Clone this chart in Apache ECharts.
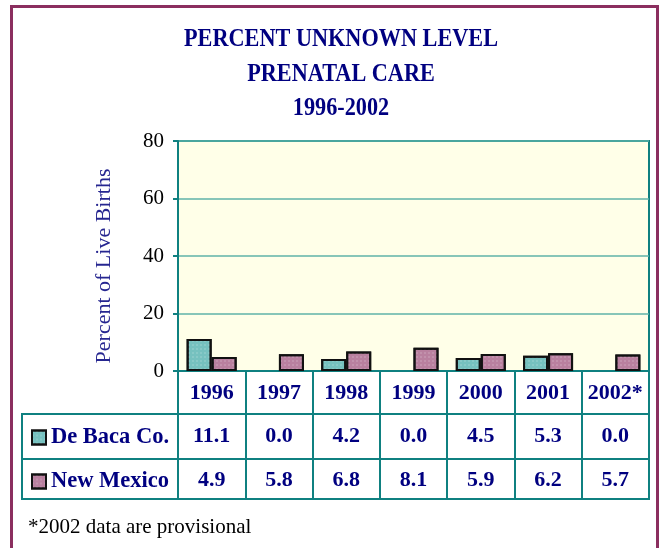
<!DOCTYPE html>
<html>
<head>
<meta charset="utf-8">
<script src="https://cdn.jsdelivr.net/npm/echarts@6/dist/echarts.min.js"></script>
<style>
html,body{margin:0;padding:0;background:#ffffff;}
#chart{width:661px;height:548px;}
</style>
</head>
<body>
<div id="chart"></div>
<script>
// ---- data ----
const years = ['1996','1997','1998','1999','2000','2001','2002*'];
const deBaca = [11.1, 0.0, 4.2, 0.0, 4.5, 5.3, 0.0];
const newMexico = [4.9, 5.8, 6.8, 8.1, 5.9, 6.2, 5.7];
const seriesNames = ['De Baca Co.', 'New Mexico'];
const titleLines = ['PERCENT UNKNOWN LEVEL', 'PRENATAL CARE', '1996-2002'];
const yAxisName = 'Percent of Live Births';
const footnote = '*2002 data are provisional';

// ---- layout / style ----
const G = {left:178, top:141, width:471, height:230};
const tableRows = [414, 459, 499];
const tableLeft = 22;
const teal = '#0F8080';
const navy = '#000080';
const serif = '"Liberation Serif","Times New Roman",serif';
const colTeal = '#76C1BF';
const colMauve = '#B9809F';
const decal = {symbol:'rect', symbolSize:0.5, dashArrayX:[2,2], dashArrayY:[2,2], color:'rgba(255,255,255,0.55)'};

const chart = echarts.init(document.getElementById('chart'));

const gridRight = G.left + G.width;
const graphics = [
  {type:'rect', shape:{x:11.5, y:6.5, width:646, height:620}, style:{fill:null, stroke:'#8B2F5F', lineWidth:3}, z:100},
];
titleLines.forEach((t,i)=>{
  graphics.push({type:'text', x:341, y:40 + i*34.5, scaleX:0.89,
    style:{text:t, font:'bold 25px ' + serif, fill:navy, align:'center', verticalAlign:'middle'}});
});
tableRows.forEach(y=>{
  graphics.push({type:'line', shape:{x1:tableLeft, y1:y, x2:gridRight+1, y2:y}, style:{stroke:teal, lineWidth:2}, z:50});
});
graphics.push({type:'line', shape:{x1:tableLeft, y1:tableRows[0]-1, x2:tableLeft, y2:tableRows[2]+1}, style:{stroke:teal, lineWidth:2}, z:50});
graphics.push({type:'text', x:28, y:527,
  style:{text:footnote, font:'21px ' + serif, fill:'#000000', align:'left', verticalAlign:'middle'}});

const valueAxis = (vals, offset, margin) => ({
  type:'category', gridIndex:0, position:'bottom', offset:offset,
  data: vals.map(v=>v.toFixed(1)),
  axisLine:{show:false}, axisTick:{show:false}, splitLine:{show:false},
  axisLabel:{interval:0, margin:margin, verticalAlign:'middle', fontFamily:serif, fontSize:22, fontWeight:'bold', color:navy}
});
// zero-height bars draw nothing (no outline)
const barData = vals => vals.map(v => v === 0 ? {value:v, itemStyle:{borderWidth:0, opacity:0}} : v);

chart.setOption({
  animation:false,
  grid:{left:G.left, top:G.top, width:G.width, height:G.height, show:true, backgroundColor:'#FFFFE8', borderColor:teal, borderWidth:2},
  legend:{
    orient:'vertical', left:31, top:426, padding:0, itemGap:21, itemWidth:14, itemHeight:14, selectedMode:false,
    icon:'rect',
    textStyle:{fontFamily:serif, fontSize:22.5, fontWeight:'bold', color:navy, lineHeight:22},
    data: seriesNames
  },
  xAxis:[
    {type:'category', data:years, position:'bottom',
      axisLine:{lineStyle:{color:teal, width:2}},
      axisTick:{show:true, interval:0, alignWithLabel:false, length:128, lineStyle:{color:teal, width:2}},
      axisLabel:{interval:0, margin:22, verticalAlign:'middle', fontFamily:serif, fontSize:22, fontWeight:'bold', color:navy},
      splitLine:{show:false}},
    valueAxis(deBaca, 43, 22),
    valueAxis(newMexico, 88, 21)
  ],
  yAxis:{
    type:'value', min:0, max:80, interval:20,
    name:yAxisName, nameLocation:'middle', nameRotate:90, nameGap:63,
    nameTextStyle:{fontFamily:serif, fontSize:22, color:'#262690', padding:[0,20,0,0]},
    axisLine:{show:true, lineStyle:{color:teal, width:2}},
    axisTick:{show:true, length:5, lineStyle:{color:teal, width:2}},
    axisLabel:{margin:14, fontFamily:serif, fontSize:21, color:'#000000'},
    splitLine:{lineStyle:{color:'#5FB3A8', width:1.5}}
  },
  series:[
    {name:seriesNames[0], type:'bar', data:barData(deBaca), xAxisIndex:0, barWidth:25, barGap:'0%',
      itemStyle:{color:colTeal, borderColor:'#111', borderWidth:2, decal:decal}},
    {name:seriesNames[1], type:'bar', data:barData(newMexico), xAxisIndex:0, barWidth:25, barGap:'0%',
      itemStyle:{color:colMauve, borderColor:'#111', borderWidth:2, decal:decal}}
  ],
  graphic: graphics
});
</script>
</body>
</html>
